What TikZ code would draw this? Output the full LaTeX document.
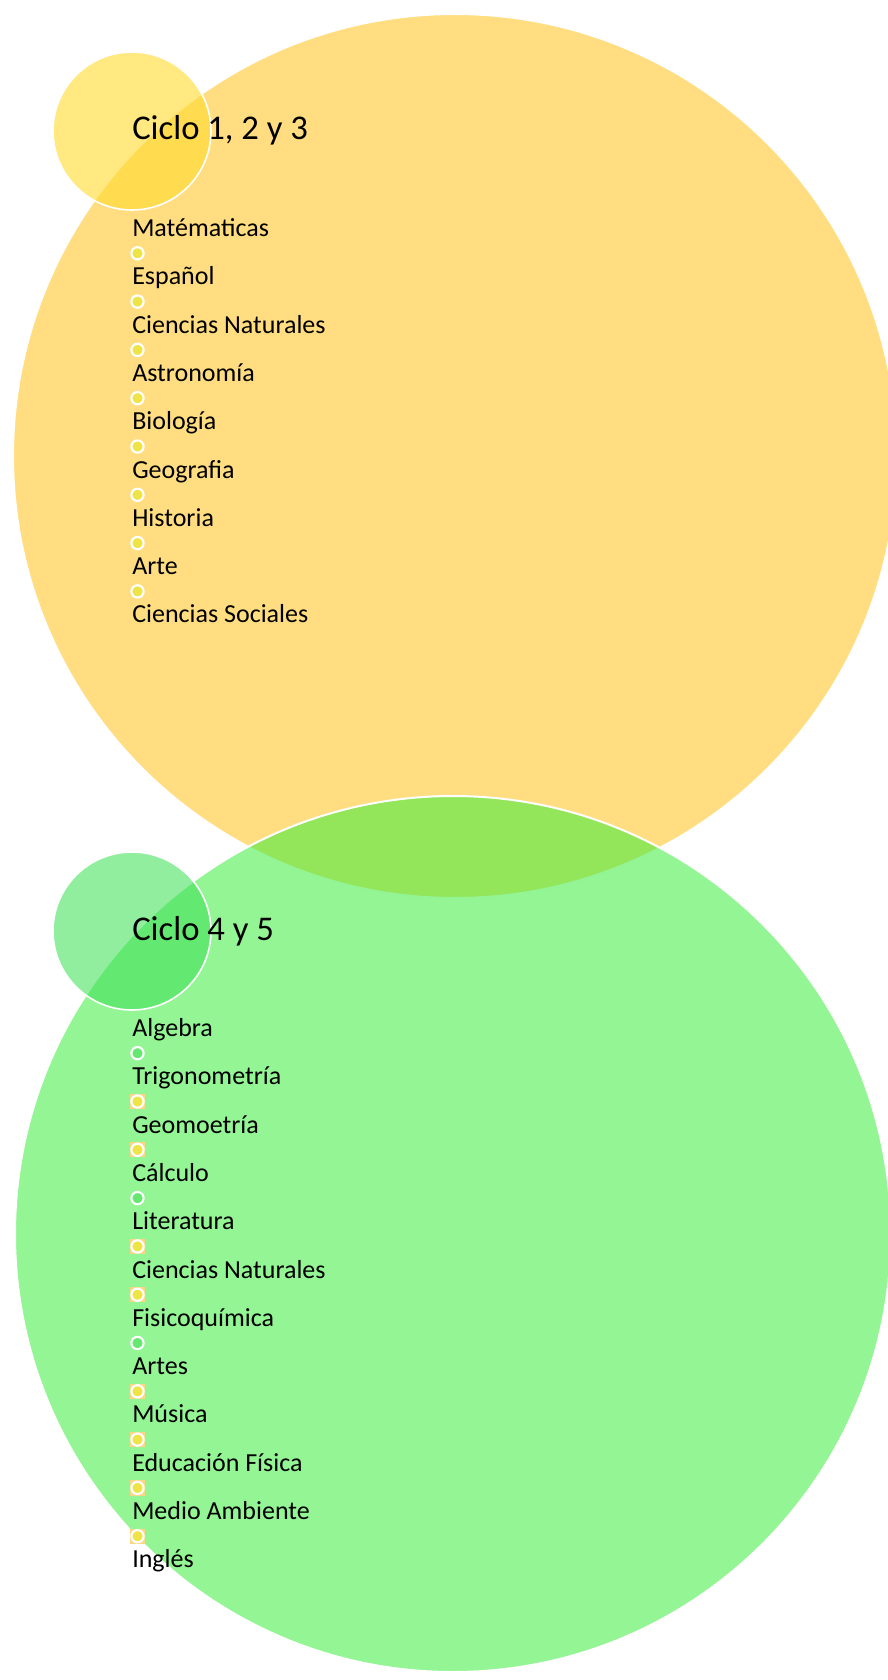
\documentclass[tikz,border=0pt]{standalone}
\usepackage{fontspec}
\setmainfont{Carlito}
\usepackage{xcolor}
\usepackage{tikz}
\definecolor{amarillo}{RGB}{255,221,128}
\definecolor{amarillochico}{RGB}{255,219,50}
\definecolor{verde}{RGB}{60,236,60}
\definecolor{verdechico}{RGB}{65,226,88}
\definecolor{puntoam}{RGB}{238,228,70}
\definecolor{puntove}{RGB}{100,232,112}
\definecolor{cuadro}{RGB}{253,214,133}
\tikzset{x=0.75pt, y=-0.75pt,
  grande/.style={circle, draw=white, line width=1.5pt, inner sep=0pt},
  chico/.style={circle, draw=white, line width=1.2pt, inner sep=0pt, minimum size=118.5pt},
  titulo/.style={anchor=base west, inner sep=0pt, font=\fontsize{26}{30}\selectfont},
  materia/.style={anchor=base west, inner sep=0pt, font=\fontsize{19.5}{23}\selectfont},
  punto/.style={circle, draw=white, line width=1.6pt, inner sep=0pt, minimum size=9.2pt},
  fondo/.style={rectangle, fill=cuadro, inner sep=0pt, minimum size=11.5pt}}

\begin{document}
\begin{tikzpicture}
  \clip (0,0) rectangle (888,1680);

  \node[grande, fill=amarillo, minimum size=663pt](c1) at (455,456){};
  \node[grande, fill=verde, fill opacity=0.55, minimum size=657pt](c2) at (453,1234){};
  \node[chico, fill=amarillochico, fill opacity=0.62](t1) at (132,131){};
  \node[chico, fill=verdechico, fill opacity=0.58](t2) at (132,931){};

  \node[titulo](n1) at (132,140){Ciclo 1, 2 y 3};
  \node[titulo](n2) at (132,940){Ciclo 4 y 5};

  % ciclo 1, 2 y 3
  \node[materia](a1) at (132,236.5){Matématicas};
  \node[materia](a2) at (132,284.8){Español};
  \node[materia](a3) at (132,333.1){Ciencias Naturales};
  \node[materia](a4) at (132,381.4){Astronomía};
  \node[materia](a5) at (132,429.7){Biología};
  \node[materia](a6) at (132,478.0){Geografia};
  \node[materia](a7) at (132,526.3){Historia};
  \node[materia](a8) at (132,574.6){Arte};
  \node[materia](a9) at (132,622.9){Ciencias Sociales};

  \node[punto, fill=puntoam](p1) at (137.5,253.3){};
  \node[punto, fill=puntoam](p2) at (137.5,301.6){};
  \node[punto, fill=puntoam](p3) at (137.5,349.9){};
  \node[punto, fill=puntoam](p4) at (137.5,398.2){};
  \node[punto, fill=puntoam](p5) at (137.5,446.5){};
  \node[punto, fill=puntoam](p6) at (137.5,494.8){};
  \node[punto, fill=puntoam](p7) at (137.5,543.1){};
  \node[punto, fill=puntoam](p8) at (137.5,591.4){};

  % ciclo 4 y 5
  \node[materia](b1) at (132,1036.5){Algebra};
  \node[materia](b2) at (132,1084.8){Trigonometría};
  \node[materia](b3) at (132,1133.1){Geomoetría};
  \node[materia](b4) at (132,1181.4){Cálculo};
  \node[materia](b5) at (132,1229.7){Literatura};
  \node[materia](b6) at (132,1278.0){Ciencias Naturales};
  \node[materia](b7) at (132,1326.3){Fisicoquímica};
  \node[materia](b8) at (132,1374.6){Artes};
  \node[materia](b9) at (132,1422.9){Música};
  \node[materia](b10) at (132,1471.2){Educación Física};
  \node[materia](b11) at (132,1519.5){Medio Ambiente};
  \node[materia](b12) at (132,1567.8){Inglés};

  \node[fondo](f2) at (137.5,1101.5){};
  \node[fondo](f3) at (137.5,1149.8){};
  \node[fondo](f5) at (137.5,1246.4){};
  \node[fondo](f6) at (137.5,1294.7){};
  \node[fondo](f8) at (137.5,1391.3){};
  \node[fondo](f9) at (137.5,1439.6){};
  \node[fondo](f10) at (137.5,1487.9){};
  \node[fondo](f11) at (137.5,1536.2){};

  \node[punto, fill=puntove](q1) at (137.5,1053.2){};
  \node[punto, fill=puntoam](q2) at (137.5,1101.5){};
  \node[punto, fill=puntoam](q3) at (137.5,1149.8){};
  \node[punto, fill=puntove](q4) at (137.5,1198.1){};
  \node[punto, fill=puntoam](q5) at (137.5,1246.4){};
  \node[punto, fill=puntoam](q6) at (137.5,1294.7){};
  \node[punto, fill=puntove](q7) at (137.5,1343.0){};
  \node[punto, fill=puntoam](q8) at (137.5,1391.3){};
  \node[punto, fill=puntoam](q9) at (137.5,1439.6){};
  \node[punto, fill=puntoam](q10) at (137.5,1487.9){};
  \node[punto, fill=puntoam](q11) at (137.5,1536.2){};
\end{tikzpicture}
\end{document}
